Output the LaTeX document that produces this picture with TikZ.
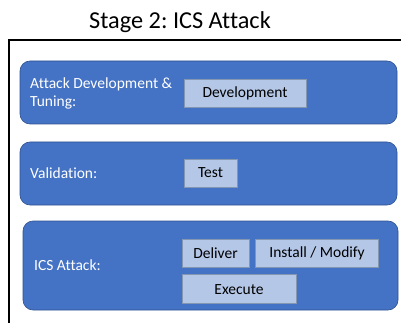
\documentclass[tikz,border=0pt]{standalone}
\usepackage{fontspec}
\setmainfont{Carlito}[Ligatures={NoCommon}]
\usepackage{xcolor}
\usetikzlibrary{positioning}
\frenchspacing
\definecolor{stageblue}{HTML}{4472C4}
\definecolor{stageline}{HTML}{2F528F}
\definecolor{stepfill}{HTML}{B4C7E7}
\definecolor{stepline}{HTML}{8497B0}
\tikzstyle{phase} = [draw=stageline, fill=stageblue, line width=0.6pt,
	rounded corners=10pt,
	minimum width = 377pt,
	minimum height = 63pt]
\tikzstyle{phaselabel} = [text=white, anchor=west, align=left, inner sep=0pt,
	font=\fontsize{15.5}{18}\selectfont]
\tikzstyle{task} = [draw=stepline, fill=stepfill, line width=0.6pt,
	minimum height = 28pt, inner sep=0pt,
	font=\fontsize{15.5}{18}\selectfont]

\begin{document}
\begin{tikzpicture}[x=1pt, y=-1pt]
	\useasboundingbox (0,0) rectangle (401,323);
	
	\node (title) at (180,22) {\fontsize{24.3}{28}\selectfont Stage 2: ICS Attack};
	\draw [line width=2pt] (9,340) -- (9,40) -- (420,40);
	
	% development phase
	\node (dev) [phase] at (208.5,92.5) {};
	\node (devText) [phaselabel] at (30,93) {Attack Development \&\\Tuning:};
	\node (develop) [task, minimum width=122pt] at (245,93) {Development};
	
	% validation phase
	\node (val) [phase] at (208.5,173.5) {};
	\node (valText) [phaselabel] at (30,173) {Validation:};
	\node (test) [task, minimum width=53pt] at (210.5,173) {Test};
	
	% attack phase
	\node (atk) [phase, minimum width=375pt, minimum height=89pt] at (210.5,265.5) {};
	\node (atkText) [phaselabel] at (34,265) {ICS Attack:};
	\node (deliver) [task, minimum width=67pt] at (215.5,253) {Deliver};
	\node (install) [task, minimum width=123pt, right=6pt of deliver] {Install / Modify};
	\node (execute) [task, minimum width=114pt, minimum height=29pt, below right=7pt and 0pt of deliver.south west, anchor=north west] {Execute};
\end{tikzpicture}
\end{document}
